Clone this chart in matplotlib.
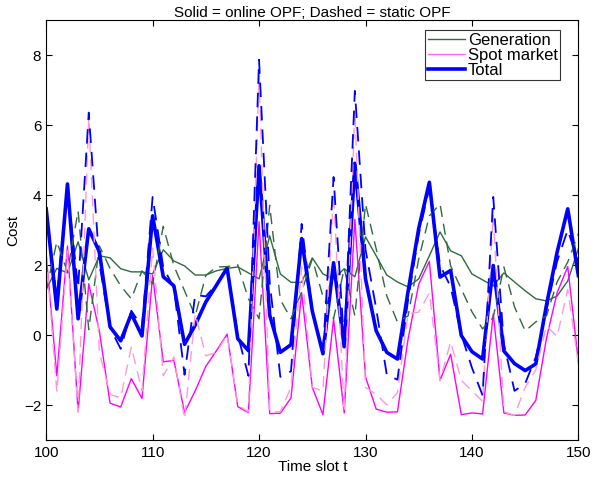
import numpy as np
import matplotlib
matplotlib.use("Agg")
import matplotlib.pyplot as plt

plt.rcParams['font.family'] = ['Liberation Sans', 'DejaVu Sans']

t = list(range(100, 151))

# online OPF (solid)
gen_online = [1.3, 1.9, 1.77, 2.66, 1.57, 2.26, 2.2, 1.89, 1.8, 1.8,
              1.74, 2.43, 2.11, 1.97, 1.71, 1.71, 1.83, 1.9, 1.94, 1.77,
              1.6, 2.83, 1.74, 1.5, 1.5, 2.2, 1.74, 1.6, 1.89, 1.66,
              2.8, 2.26, 1.71, 1.51, 1.37, 1.6, 2.26, 2.94, 2.4, 2.26,
              1.74, 1.57, 1.4, 1.77, 1.51, 1.26, 1.03, 0.97, 1.11, 1.54,
              2.46]
spot_online = [2.3, -1.17, 2.54, -2.2, 1.46, 0.1, -1.95, -2.06, -1.25, -1.82,
               1.7, -0.77, -0.73, -2.22, -1.6, -0.9, -0.45, 0.02, -2.05, -2.22,
               3.23, -2.25, -2.24, -1.8, 1.2, -1.5, -2.28, 0.45, -2.23, 3.3,
               -1.2, -2.12, -2.21, -2.2, -0.12, 1.45, 2.1, -1.3, -0.55, -2.28,
               -2.23, -2.26, 0.6, -2.23, -2.3, -2.29, -1.87, -0.1, 1.2, 1.95,
               -0.77]
total_online = [3.6, 0.74, 4.31, 0.46, 3.03, 2.37, 0.23, -0.17, 0.6, -0.03,
                3.4, 1.66, 1.4, -0.27, 0.28, 0.94, 1.42, 1.91, -0.11, -0.45,
                4.83, 0.56, -0.5, -0.28, 2.75, 0.68, -0.54, 2.06, -0.34, 4.9,
                1.6, 0.12, -0.5, -0.69, 1.24, 3.04, 4.36, 1.65, 1.84, -0.02,
                -0.48, -0.69, 1.98, -0.46, -0.82, -1.02, -0.83, 0.85, 2.36, 3.6,
                1.69]

# static OPF (dashed)
gen_static = [1.26, 2.66, 1.8, 3.54, 0.15, 2.54, 1.9, 1.4, 1.03, 1.83,
              1.46, 3.1, 1.97, 1.26, 0.54, 1.7, 1.94, 1.95, 2.0, 1.03,
              0.46, 3.7, 1.0, 0.46, 1.23, 2.17, 1.1, 0.46, 1.9, 0.54,
              3.74, 2.46, 1.11, 0.37, 0.54, 2.17, 3.4, 3.74, 1.97, 1.31,
              0.66, 0.17, 0.5, 1.94, 0.8, 0.11, 0.37, 0.54, 1.51, 2.08,
              2.89]
spot_static = [2.3, -1.63, 2.4, -2.2, 6.2, -0.5, -1.7, -1.8, -0.34, -1.6,
               2.48, -1.17, -0.63, -2.4, 0.6, -0.6, -0.5, 0.0, -2.0, -2.2,
               7.4, -2.2, -2.2, -1.5, 1.94, -1.5, -1.6, 4.05, -2.2, 6.43,
               -1.5, -1.7, -2.0, -1.65, 0.6, 0.65, 1.2, -1.3, -0.2, -1.3,
               -1.6, -1.9, 3.44, -2.2, -2.3, -1.5, -1.0, 0.26, -0.05, 1.3,
               -0.83]
total_static = [3.56, 1.03, 4.2, 1.34, 6.35, 2.04, 0.2, -0.4, 0.69, 0.23,
                3.94, 1.93, 1.34, -1.14, 1.14, 1.1, 1.44, 1.95, 0.0, -1.17,
                7.86, 1.5, -1.2, -1.04, 3.17, 0.67, -0.5, 4.51, -0.3, 6.97,
                2.44, 0.76, -1.14, -1.28, 1.0, 2.87, 4.2, 2.0, 1.37, 0.01,
                -0.94, -1.73, 3.94, -0.26, -1.6, -1.39, -0.63, 0.7, 2.1, 3.0,
                2.06]

green = '#2f6b40'
magenta = '#ff00ff'
pink = '#ff9ad5'
blue = '#0000ff'

fig = plt.figure(figsize=(5.92, 4.85), dpi=100)
ax = fig.add_axes([0.078, 0.091, 0.899, 0.866])

ax.plot(t, gen_online, color=green, lw=1.0, label='Generation')
ax.plot(t, spot_online, color=magenta, lw=1.0, label='Spot market')
ax.plot(t, total_online, color=blue, lw=2.6, label='Total')
ax.plot(t, gen_static, color=green, lw=1.0, ls=(0, (8, 5)))
ax.plot(t, spot_static, color=pink, lw=1.0, ls=(0, (8, 5)))
ax.plot(t, total_static, color=blue, lw=1.3, ls=(0, (8, 5)))

ax.set_xlim(100, 150)
ax.set_ylim(-3, 9)
ax.set_xticks(range(100, 151, 10))
ax.set_yticks(range(-2, 9, 2))
ax.tick_params(direction='in', top=True, right=True, labelsize=11, length=4)
for s in ax.spines.values():
    s.set_linewidth(0.8)

ax.set_title('Solid = online OPF; Dashed = static OPF', fontsize=11, pad=3)
ax.set_xlabel('Time slot t', fontsize=11, labelpad=0)
ax.set_ylabel('Cost', fontsize=11, labelpad=3)

leg = ax.legend(loc='upper right', fontsize=12, frameon=True, fancybox=False,
                handlelength=2.2, handletextpad=0.2, borderpad=0.15,
                labelspacing=0.0, borderaxespad=0.6,
                bbox_to_anchor=(0.985, 1.0))
leg.get_frame().set_edgecolor('black')
leg.get_frame().set_linewidth(0.8)
leg.legend_handles[1].set_color('#ff66ff')

fig.savefig('out.png', dpi=100)
